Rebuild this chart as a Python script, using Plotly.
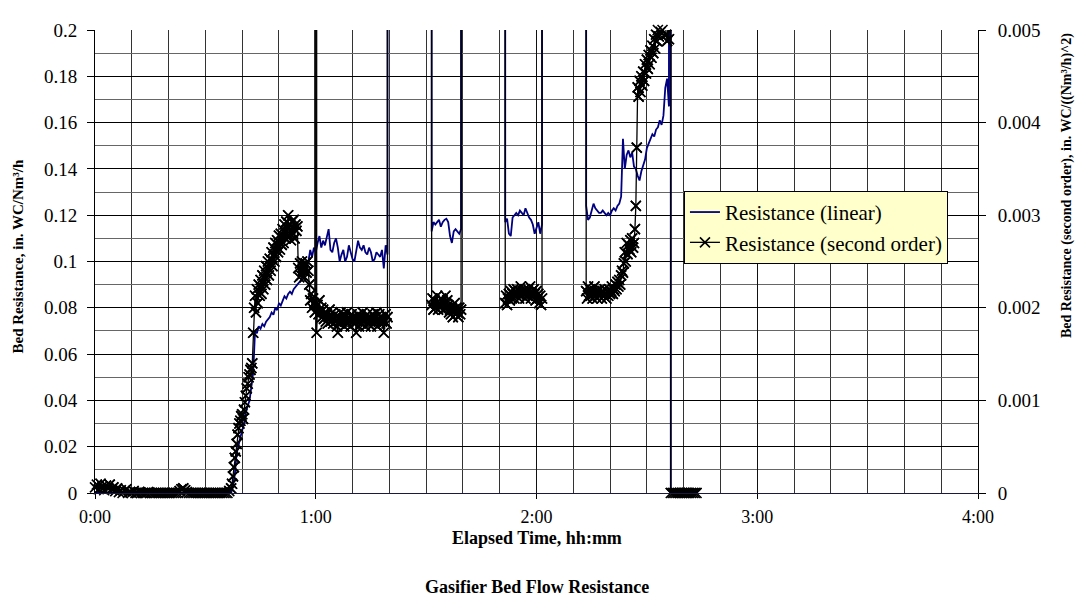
import plotly.graph_objects as go

# Elapsed time in minutes. Linear resistance in in. WC/(Nm3/h), logged every 0.5 min;
# second-order resistance in in. WC/(Nm3/h)^2, logged every 0.25 min (0.5 min when idle).
# SPIKE marks a reading taken while the flow dropped out (value far off scale).
SPIKE = 10.0

# ---- linear resistance ----
lin0_start, lin0_step = 0.0, 1.0
lin0 = [0.0, 0.0, 0.0, 0.0, 0.0, 0.0, 0.0, 0.0, 0.0, 0.0,
        0.0, 0.0, 0.0, 0.0, 0.0, 0.0, 0.0, 0.0, 0.0, 0.0,
        0.0, 0.0, 0.0, 0.0, 0.0, 0.0, 0.0, 0.0, 0.0, 0.0,
        0.0, 0.0, 0.0, 0.0, 0.0, 0.0, 0.0, 0.0]

lin1_start, lin1_step = 37.5, 0.5
lin1 = [0.003, 0.008, 0.017, 0.021, 0.024, 0.027, 0.03, 0.035, 0.038, 0.04,
        0.046, 0.052, 0.07, 0.069, 0.072, 0.071, 0.073, 0.072, 0.074, 0.075,
        0.076, 0.078, 0.077, 0.08, 0.079, 0.082, 0.081, 0.083, 0.085, 0.084,
        0.086, 0.087, 0.086, 0.088, 0.089, 0.09, 0.091, 0.092, 0.094, 0.095,
        0.097, 0.1, 0.105, 0.102, 0.106, 0.104, 0.108, 0.111, 0.106, 0.109,
        0.107, 0.11, 0.114, 0.105, 0.104, 0.108, 0.11, 0.106, 0.1, 0.103,
        0.105, 0.1, 0.102, 0.107, 0.104, 0.101, 0.1, 0.104, 0.109, 0.106,
        0.105, 0.107, 0.104, 0.103, 0.106, 0.104, 0.1, 0.101, 0.104, 0.103,
        0.102, 0.105, 0.097, 0.107, 0.103]

lin2_start, lin2_step = 91.5, 0.5
lin2 = [0.113, 0.117, 0.116, 0.117, 0.118, 0.115, 0.117, 0.118, 0.1185, 0.117,
        0.111, 0.108, 0.113, 0.114, 0.113, 0.112, 0.114]

lin3_start, lin3_step = 111.5, 0.5
lin3 = [0.117, 0.1185, 0.112, 0.111, 0.119, 0.12, 0.121, 0.12, 0.122, 0.121,
        0.12, 0.123, 0.121, 0.119, 0.118, 0.116, 0.112, 0.115, 0.117, 0.112,
        0.116]

lin4_start, lin4_step = 133.5, 0.5
lin4 = [0.124, 0.118, 0.119, 0.122, 0.125, 0.123, 0.122, 0.121, 0.121, 0.122,
        0.121, 0.12, 0.121, 0.12, 0.122, 0.123, 0.122, 0.124, 0.125, 0.128,
        0.153, 0.14, 0.146, 0.148, 0.145, 0.147, 0.141, 0.14, 0.137, 0.135,
        0.139, 0.142, 0.144, 0.149, 0.151, 0.153, 0.155, 0.154, 0.157, 0.158,
        0.161, 0.159, 0.163, 0.175, 0.179, 0.167]

lin5_start, lin5_step = 156.5, 0.5
lin5 = [0.0, 0.0, 0.0, 0.0, 0.0, 0.0, 0.0, 0.0, 0.0, 0.0, 0.0, 0.0, 0.0, 0.0, 0.0]

# ---- second-order resistance ----
sec0_start, sec0_step = 0.0, 0.5
sec0 = [0.00006, 0.00009, 0.00004, 0.0001, 0.00007, 0.00003, 0.00008, 0.00005, 0.00009, 0.00004,
        0.00006, 0.00002, 0.00005, 0.00001, 0.00003, 0.0, 0.00002, 0.00004, 0.0, 0.00001,
        0.0, 0.00002, 0.0, 0.0, 0.00001, 0.0, 0.0, 0.0, 0.0, 0.00001,
        0.0, 0.0, 0.0, 0.0, 0.0, 0.0, 0.0, 0.0, 0.0, 0.0,
        0.0, 0.0, 0.0, 0.0, 0.0, 0.0, 0.00002, 0.00004, 0.00005, 0.00003,
        0.00001, 0.0, 0.0, 0.0, 0.0, 0.0, 0.0, 0.0, 0.0, 0.0,
        0.0, 0.0, 0.0, 0.0, 0.0, 0.0, 0.0, 0.0, 0.0, 0.0,
        0.0, 0.0, 0.0, 0.00002, 0.00005]

sec1_start, sec1_step = 37.25, 0.25
sec1 = [0.0001, 0.00018, 0.00028, 0.00038, 0.00045, 0.00053, 0.00063, 0.0007, 0.00075, 0.00078,
        0.00083, 0.00085, 0.0008, 0.0009, 0.00098, 0.00105, 0.00113, 0.00118, 0.00125, 0.00128,
        0.00133, 0.00135, 0.0014, 0.00173,
        0.002, 0.00213, 0.00195, 0.0022, 0.00205, 0.00225, 0.00213, 0.0023,
        0.00215, 0.00235, 0.0022, 0.0024, 0.00225, 0.00245, 0.0023, 0.0025,
        0.00235, 0.00253, 0.0024, 0.0026, 0.00245, 0.00265, 0.0025, 0.0027,
        0.00255, 0.00273, 0.0026, 0.00278, 0.00263, 0.0028, 0.00268, 0.00285,
        0.0027, 0.0029, 0.00275, 0.00293, 0.0028, 0.003, 0.00278, 0.0029,
        0.00273, 0.00293, 0.0028, 0.00295, 0.00275, 0.0029, 0.00283, 0.00288,
        0.00243, 0.00233, 0.00248, 0.00235, 0.0025, 0.0024, 0.00245, 0.00233,
        0.00248, 0.00238, 0.0025, 0.0024, 0.00225, 0.00208, 0.00215, 0.002,
        0.0021, 0.00205, 0.00195, SPIKE,
        0.00173, 0.00203, 0.00193, 0.00208, 0.00195, 0.002, 0.0019, 0.00198,
        0.00188, 0.00195, 0.00185, 0.00193, 0.00183, 0.0019, 0.00198, 0.00185,
        0.0019, 0.00195, 0.00183, 0.00188, 0.00193, 0.00185, 0.0018, 0.00173,
        0.0019, 0.00183, 0.00195, 0.00185, 0.00188, 0.00193, 0.0018, 0.0019,
        0.00185, 0.00195, 0.00183, 0.0019, 0.00188, 0.0018, 0.00193, 0.00185,
        0.0019, 0.00183, 0.00188, 0.00173, 0.00185, 0.00193, 0.0018, 0.0019,
        0.00183, 0.00188, 0.00195, 0.00185, 0.0019, 0.0018, 0.00188, 0.00193,
        0.00183, 0.0019, 0.00185, 0.0018, 0.00188, 0.00193, 0.00183, 0.0019,
        0.00185, 0.00195, 0.0018, 0.00188, 0.00193, 0.00183, 0.0019, 0.00185,
        0.00188, 0.00173, 0.00185, 0.00193, 0.00183, 0.0019]

sec2_start, sec2_step = 91.5, 0.25
sec2 = [0.00203, 0.0021, 0.00198, 0.00208, 0.002, 0.00205, 0.00213, 0.00198,
        0.00205, 0.002, 0.0021, 0.00203, 0.00208, 0.00198, 0.00205, 0.00213,
        0.002, 0.00208, 0.00203, 0.00195, 0.00198, 0.00193, 0.002, 0.0019,
        0.00198, 0.00205, 0.00193, 0.002, 0.00195, 0.0019, 0.002, 0.00193,
        0.00198]

sec3_start, sec3_step = 111.5, 0.25
sec3 = [0.00205, 0.00213, 0.00203, 0.0021, 0.00215, 0.00208, 0.00218, 0.0021,
        0.00215, 0.0022, 0.0021, 0.00218, 0.00213, 0.0022, 0.00215, 0.0021,
        0.00218, 0.00223, 0.00213, 0.00218, 0.00215, 0.0022, 0.0021, 0.00218,
        0.00213, 0.0022, 0.00215, 0.00223, 0.0021, 0.00218, 0.00213, 0.0022,
        0.00215, 0.00208, 0.00218, 0.0021, 0.00215, 0.00205, 0.00213, 0.00203,
        0.0021]

sec4_start, sec4_step = 133.5, 0.25
sec4 = [0.00218, 0.0021, 0.00223, 0.00213, 0.0022, 0.00213, 0.00218, 0.0021,
        0.00215, 0.00223, 0.00213, 0.00218, 0.0021, 0.00218, 0.00213, 0.0022,
        0.00215, 0.0021, 0.00218, 0.00213, 0.0022, 0.00215, 0.0021, 0.00218,
        0.00213, 0.0022, 0.00215, 0.00218, 0.00223, 0.00215, 0.0022, 0.00218,
        0.00225, 0.0022, 0.00228, 0.00223, 0.0023, 0.00225, 0.00235, 0.0024,
        0.00238, 0.00248, 0.0026, 0.0025, 0.0027, 0.00258, 0.00268, 0.00263,
        0.00273, 0.0026, 0.00275, 0.00265, 0.0027, 0.00285, 0.0031, 0.00373,
        0.00438, 0.00428, 0.00445, 0.00433, 0.0045, 0.0044, 0.00455, 0.00445,
        0.00463, 0.00453, 0.00468, 0.00458, 0.00473, 0.00463, 0.00478, 0.0047,
        0.00483, 0.00475, 0.0049, 0.0048, 0.00495, 0.00488, 0.005, 0.00493,
        0.00508, 0.00498, 0.00513, 0.005, 0.00515, 0.00503, 0.0051, 0.00495,
        0.00488, 0.00505, 0.0049]

sec5_start, sec5_step = 156.5, 0.5
sec5 = [0.0, 0.0, 0.0, 0.0, 0.0, 0.0, 0.0, 0.0, 0.0, 0.0, 0.0, 0.0, 0.0, 0.0, 0.0]

hour_ticks = [0, 60, 120, 180, 240]
hour_labels = ["0:00", "1:00", "2:00", "3:00", "4:00"]
left_ticks = [0, 0.02, 0.04, 0.06, 0.08, 0.1, 0.12, 0.14, 0.16, 0.18, 0.2]
left_labels = ["0", "0.02", "0.04", "0.06", "0.08", "0.1", "0.12", "0.14", "0.16", "0.18", "0.2"]
right_ticks = [0, 0.001, 0.002, 0.003, 0.004, 0.005]
right_labels = ["0", "0.001", "0.002", "0.003", "0.004", "0.005"]

FONT = "Liberation Serif, Times New Roman, serif"


def build(parts):
    # parts: (start, step, values, spike before, spike after, gap after)
    t, v = [], []
    for start, step, vals, lead, trail, gap in parts:
        if lead:
            t.append(start - step / 2)
            v.append(SPIKE)
        for i, val in enumerate(vals):
            t.append(start + i * step)
            v.append(val)
        if trail:
            t.append(start + (len(vals) - 0.5) * step)
            v.append(SPIKE)
        if gap:
            t.append(None)
            v.append(None)
    return t, v


lin_t, lin_v = build([
    (lin0_start, lin0_step, lin0, False, False, False),
    (lin1_start, lin1_step, lin1, False, True, True),
    (lin2_start, lin2_step, lin2, True, True, True),
    (lin3_start, lin3_step, lin3, True, True, True),
    (lin4_start, lin4_step, lin4, True, True, False),
    (lin5_start, lin5_step, lin5, False, False, False),
])
sec_t, sec_v = build([
    (sec0_start, sec0_step, sec0, False, False, False),
    (sec1_start, sec1_step, sec1, False, True, True),
    (sec2_start, sec2_step, sec2, True, True, True),
    (sec3_start, sec3_step, sec3, True, True, True),
    (sec4_start, sec4_step, sec4, True, True, False),
    (sec5_start, sec5_step, sec5, False, False, False),
])

# markers on the plot edge must not be cut in half
mk_t = [t for t, v in zip(sec_t, sec_v) if v is not None and v <= 0.0052]
mk_v = [v for v in sec_v if v is not None and v <= 0.0052]

X_MARK = dict(symbol="x-thin", size=10, line=dict(color="black", width=1.6))

fig = go.Figure()
fig.add_trace(go.Scatter(
    x=lin_t, y=lin_v, mode="lines", name="Resistance (linear)",
    line=dict(color="#000080", width=1.8), connectgaps=False,
))
fig.add_trace(go.Scatter(
    x=sec_t, y=sec_v, mode="lines+markers", name="Resistance (second order)",
    yaxis="y2", line=dict(color="black", width=1.3), connectgaps=False, marker=X_MARK,
))
fig.add_trace(go.Scatter(
    x=mk_t, y=mk_v, mode="markers", yaxis="y2", showlegend=False, cliponaxis=False,
    marker=X_MARK,
))

# the page body has an 8px margin, so the figure is 8px smaller than the window
fig.update_layout(
    width=1075, height=589, autosize=False,
    paper_bgcolor="white", plot_bgcolor="white",
    margin=dict(l=87, r=105, t=13, b=104),
    font=dict(family=FONT, size=19, color="black"),
    showlegend=True,
    legend=dict(
        x=0.667, y=0.6525, xanchor="left", yanchor="top",
        bgcolor="#FFFFCC", bordercolor="black", borderwidth=1,
        font=dict(family=FONT, size=21, color="black"),
        tracegroupgap=0,
    ),
    xaxis=dict(
        range=[0, 240], tickmode="array", tickvals=hour_ticks, ticktext=hour_labels,
        tickfont=dict(size=18),
        showgrid=True, gridcolor="#111111", gridwidth=1,
        minor=dict(tickmode="linear", tick0=0, dtick=10, showgrid=True, gridcolor="#333333", gridwidth=1),
        zeroline=False, showline=True, linecolor="#1a1a40", linewidth=1,
        ticks="outside", ticklen=5, tickcolor="black", ticklabelstandoff=2,
    ),
    yaxis=dict(
        range=[0, 0.2], tickmode="array", tickvals=left_ticks, ticktext=left_labels,
        showgrid=True, gridcolor="#000000", gridwidth=1,
        minor=dict(tickmode="linear", tick0=0, dtick=0.01, showgrid=True, gridcolor="#666666", gridwidth=1),
        zeroline=False, showline=True, linecolor="black", linewidth=1,
        ticks="outside", ticklen=7, tickcolor="black", ticklabelstandoff=6,
    ),
    yaxis2=dict(
        range=[0, 0.005], overlaying="y", side="right",
        tickmode="array", tickvals=right_ticks, ticktext=right_labels,
        showgrid=False, zeroline=False, showline=True, linecolor="black", linewidth=1,
        ticks="outside", ticklen=7, tickcolor="black", ticklabelstandoff=8,
    ),
)

fig.add_annotation(
    x=0.5, y=0, xref="paper", yref="paper", yanchor="middle", yshift=-45,
    text="<b>Elapsed Time, hh:mm</b>", showarrow=False, font=dict(family=FONT, size=18),
)
fig.add_annotation(
    x=0.5, y=0, xref="paper", yref="paper", yanchor="middle", yshift=-94,
    text="<b>Gasifier Bed Flow Resistance</b>", showarrow=False, font=dict(family=FONT, size=18),
)
fig.add_annotation(
    x=0, y=0.5, xref="paper", yref="paper", xanchor="center", xshift=-78, yshift=5,
    text="<b>Bed Resistance, in. WC/Nm³/h</b>", textangle=-90, showarrow=False,
    font=dict(family=FONT, size=15),
)
fig.add_annotation(
    x=1, y=0.663, xref="paper", yref="paper", xanchor="center", xshift=89,
    text="<b>Bed Resistance (second order), in. WC/((Nm³/h)^2)</b>", textangle=-90, showarrow=False,
    font=dict(family=FONT, size=14),
)

fig.write_html("out.html")
